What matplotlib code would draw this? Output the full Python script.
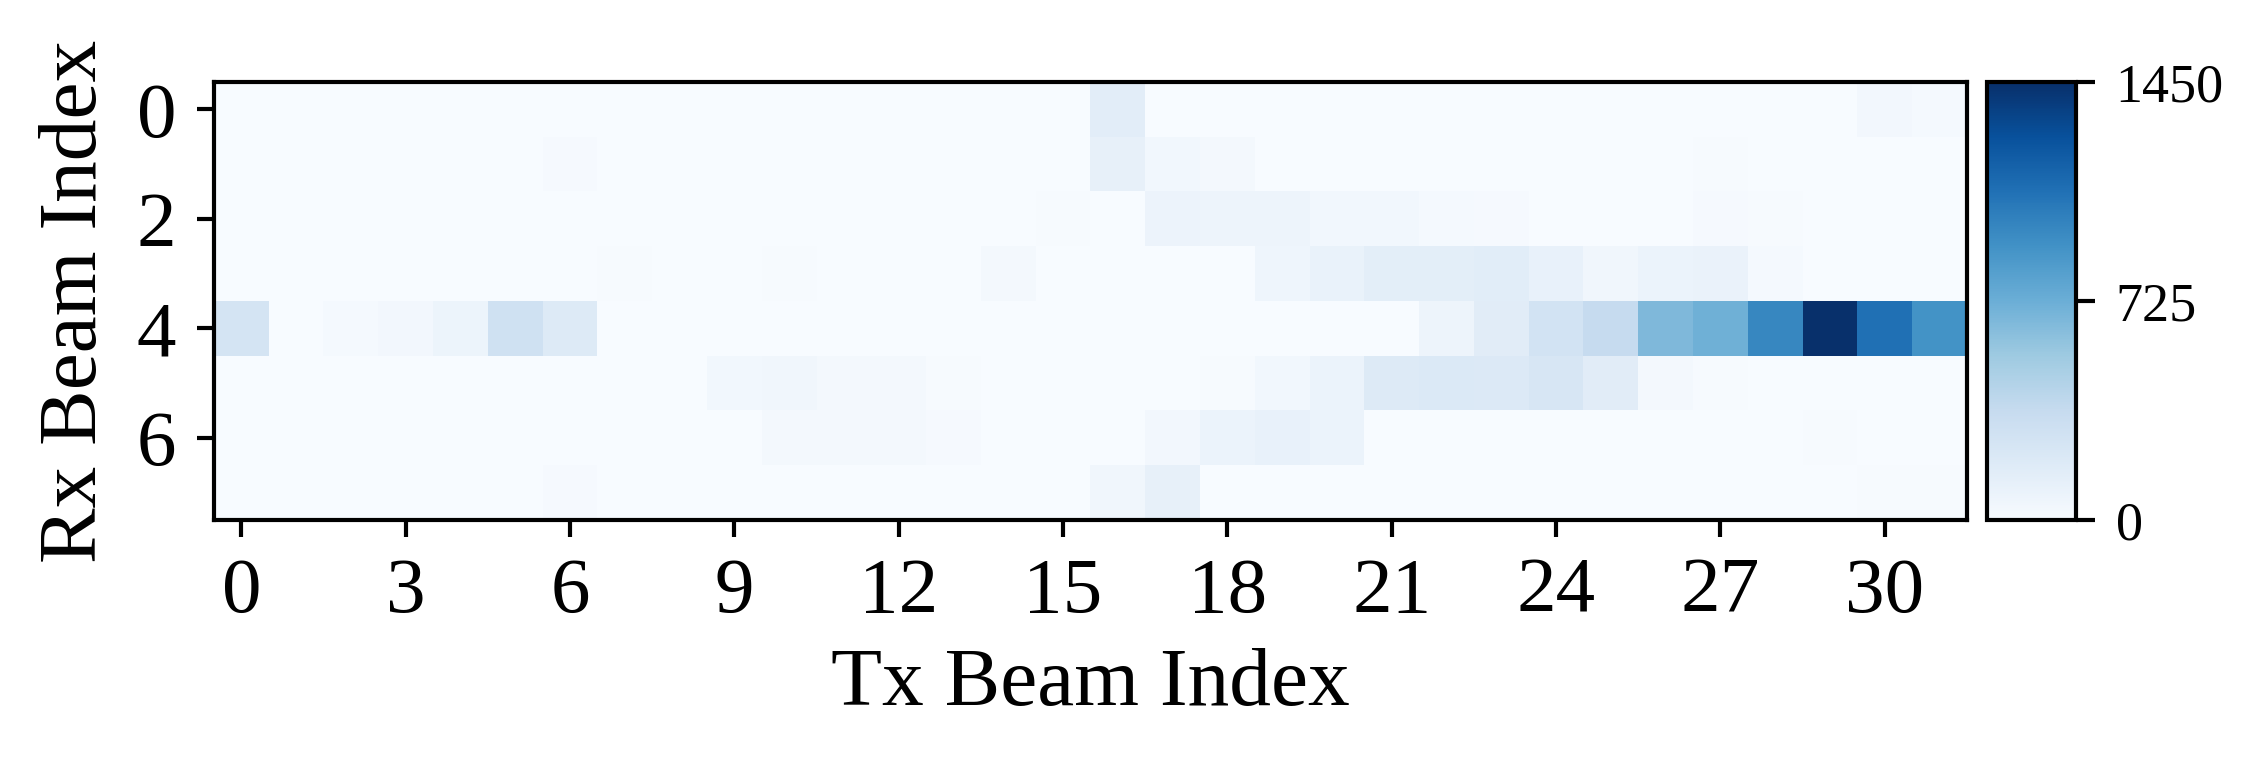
import numpy as np
import matplotlib
matplotlib.use("Agg")
import matplotlib.pyplot as plt

plt.rcParams['font.family'] = ['Liberation Serif', 'DejaVu Serif']
plt.rcParams['mathtext.fontset'] = 'stix'

# Rx beam index rows (0..7), Tx beam index columns (0..31)
row0 = [0, 0, 0, 0, 0, 0, 0, 0, 0, 0, 0, 0, 0, 0, 0, 0, 150, 0, 0, 0, 0, 0, 0, 0, 0, 0, 0, 0, 0, 0, 35, 20]
row1 = [0, 0, 0, 0, 0, 0, 15, 0, 0, 0, 0, 0, 0, 0, 0, 0, 115, 45, 30, 0, 0, 0, 0, 0, 0, 0, 0, 8, 0, 0, 0, 0]
row2 = [0, 0, 0, 0, 0, 0, 0, 0, 0, 0, 0, 0, 0, 0, 0, 10, 0, 80, 70, 70, 40, 40, 20, 15, 0, 0, 0, 12, 10, 0, 0, 0]
row3 = [0, 0, 0, 0, 0, 0, 0, 8, 0, 0, 8, 0, 0, 0, 25, 0, 0, 0, 0, 65, 100, 145, 145, 155, 110, 50, 90, 95, 20, 0, 0, 0]
row4 = [250, 0, 20, 35, 75, 290, 190, 5, 0, 0, 0, 0, 0, 0, 0, 0, 0, 0, 0, 0, 0, 5, 70, 160, 270, 360, 655, 710, 965, 1450, 1090, 900]
row5 = [0, 0, 0, 0, 0, 0, 0, 0, 0, 45, 50, 25, 25, 10, 0, 0, 0, 5, 10, 45, 85, 190, 200, 195, 230, 160, 25, 10, 0, 0, 0, 0]
row6 = [0, 0, 0, 0, 0, 0, 0, 0, 0, 0, 25, 25, 25, 15, 0, 0, 0, 35, 90, 110, 85, 0, 0, 0, 0, 0, 0, 0, 0, 10, 0, 0]
row7 = [0, 0, 0, 0, 0, 0, 12, 0, 0, 0, 0, 0, 0, 0, 0, 0, 50, 115, 0, 0, 0, 0, 0, 0, 0, 0, 0, 0, 0, 0, 10, 10]

x_ticks = list(range(0, 31, 3))
y_ticks = [0, 2, 4, 6]
cbar_ticks = [0, 725, 1450]
x_label = "Tx Beam Index"
y_label = "Rx Beam Index"

data = np.array([row0, row1, row2, row3, row4, row5, row6, row7], dtype=float)

fig = plt.figure(figsize=(2264 / 300, 767 / 300), dpi=300)
ax = fig.add_axes([214 / 2264, 1 - 520 / 767, 1753 / 2264, 438 / 767])
cax = fig.add_axes([1987 / 2264, 1 - 520 / 767, 89 / 2264, 438 / 767])

im = ax.imshow(data, cmap='Blues', vmin=0, vmax=1450, aspect='auto', interpolation='nearest')
ax.set_xticks(x_ticks)
ax.set_yticks(y_ticks)
ax.tick_params(labelsize=19, width=1, length=4, pad=5)
ax.set_xlabel(x_label, fontsize=20, labelpad=4.5)
ax.set_ylabel(y_label, fontsize=20, labelpad=5.5)
for s in ax.spines.values():
    s.set_linewidth(1)

cb = fig.colorbar(im, cax=cax, ticks=cbar_ticks)
cb.ax.tick_params(labelsize=13, width=1, length=4.5, pad=5)
cb.outline.set_linewidth(1)

fig.savefig("out.png", dpi=300)
